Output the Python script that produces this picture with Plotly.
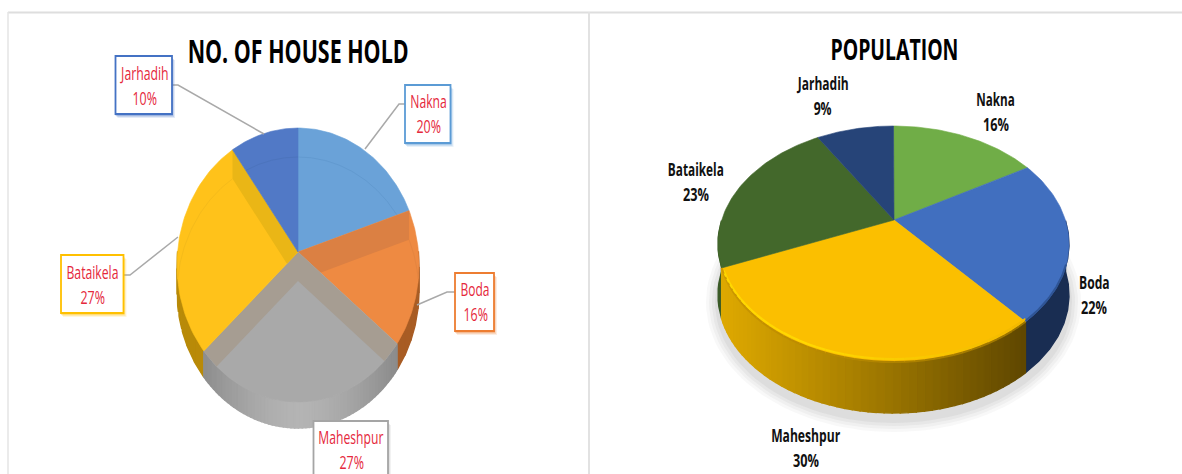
import cmath, json, math
import plotly.graph_objects as go

villages = ["Nakna", "Boda", "Maheshpur", "Bataikela", "Jarhadih"]
household_pct = [20, 16, 27, 27, 10]
population_pct = [16.4, 22.3, 30.0, 22.7, 8.6]
title_household = "NO. OF HOUSE HOLD"
title_population = "POPULATION"

LEFT = dict(cx=298, cy=265, rx=121, ry=137, ax=298, ay=252, persp=0.05, depth=26)
RIGHT = dict(cx=893.5, cy=244, rx=175.5, ry=118, ax=894, ay=220, persp=0.10, depth=51)

h_main = ["#6AA2D8", "#EE8A42", "#A9A9A9", "#FFC21A", "#5179C6"]
h_band = ["#669DD3", "#DB8043", "#A69D92", "#EAB616", "#4E75BE"]
h_line = ["#629AD0", "#E58540", "#A3A3A3", "#F5BB1A", "#4C74BD"]
h_border = ["#5B9BD5", "#ED7D31", "#A5A5A5", "#FFC000", "#4472C4"]
p_main = ["#70AD47", "#416FBF", "#FBBF00", "#43682B", "#264478"]
p_side = ["#4E7A32", "#192D52", "#000000", "#3A5A26", "#1A2E54"]
FONT = "Open Sans"
RED = "#E5283C"

fig = go.Figure()


def rim(g, theta, ox=0, oy=0):
    """Rim point of a slice boundary: true angle to perspective ellipse."""
    z = cmath.exp(1j * (math.pi / 2 - theta))
    a = 1j * g["persp"]
    w = (z + a) / (1 + a.conjugate() * z)
    return g["cx"] + g["rx"] * w.real + ox, g["cy"] - g["ry"] * w.imag + oy


def arc(g, t0, t1, n=60, ox=0, oy=0):
    return [rim(g, t0 + (t1 - t0) * i / n, ox, oy) for i in range(n + 1)]


def add_poly(pts, color, name=None, line=0.6):
    if len(pts) < 3:
        return
    fig.add_trace(go.Scatter(
        x=[p[0] for p in pts] + [pts[0][0]], y=[p[1] for p in pts] + [pts[0][1]],
        mode="lines", fill="toself", fillcolor=color,
        line=dict(color=color, width=line), hoverinfo="text" if name else "skip",
        text=name, showlegend=False))


def add_path(pts, color, width):
    fig.add_trace(go.Scatter(x=[p[0] for p in pts], y=[p[1] for p in pts], mode="lines",
                             line=dict(color=color, width=width), hoverinfo="skip", showlegend=False))


def clip(subject, clip_poly):
    """Sutherland-Hodgman clipping against a convex polygon."""
    area = sum(clip_poly[i][0] * clip_poly[(i + 1) % len(clip_poly)][1]
               - clip_poly[(i + 1) % len(clip_poly)][0] * clip_poly[i][1] for i in range(len(clip_poly)))
    sign = 1 if area > 0 else -1
    out = subject
    for i in range(len(clip_poly)):
        a, b = clip_poly[i], clip_poly[(i + 1) % len(clip_poly)]
        if abs(a[0] - b[0]) + abs(a[1] - b[1]) < 1e-9:
            continue
        side_of = lambda p: sign * ((b[0] - a[0]) * (p[1] - a[1]) - (b[1] - a[1]) * (p[0] - a[0]))
        res = []
        for j in range(len(out)):
            p, q = out[j], out[(j + 1) % len(out)]
            sp, sq = side_of(p), side_of(q)
            if sp >= 0:
                res.append(p)
            if sp * sq < 0:
                t = sp / (sp - sq)
                res.append((p[0] + t * (q[0] - p[0]), p[1] + t * (q[1] - p[1])))
        out = res
        if not out:
            break
    return out


def bounds(vals):
    total = sum(vals)
    c, res = 0, []
    for v in vals:
        res.append((2 * math.pi * c / total, 2 * math.pi * (c + v) / total))
        c += v
    return res


def mix(c0, c1, t):
    a = [int(c0[i:i + 2], 16) for i in (1, 3, 5)]
    b = [int(c1[i:i + 2], 16) for i in (1, 3, 5)]
    return "#%02X%02X%02X" % tuple(round(x + (y - x) * t) for x, y in zip(a, b))


def side(g, t0, t1, colorfn, n=1):
    """Extruded wall between two angles, clipped to the front half."""
    t0, t1 = max(t0, math.pi / 2), min(t1, 3 * math.pi / 2)
    if t1 <= t0:
        return
    for i in range(n):
        a = t0 + (t1 - t0) * i / n
        b = t0 + (t1 - t0) * (i + 1) / n
        top = arc(g, a, b, 8)
        bot = arc(g, a, b, 8, oy=g["depth"])
        add_poly(top + bot[::-1], colorfn((top[0][0] + top[-1][0]) / 2), line=1.4)


# ---------- left chart ----------
g = LEFT
lb = bounds(household_pct)


def left_side_color(base, dark):
    def f(x):
        t = min(abs(x - g["cx"]) / 100, 1)
        return mix(base, dark, t ** 1.5)
    return f


side(g, *lb[1], left_side_color("#C06A2A", "#A85C24"), 6)
side(g, *lb[3], left_side_color("#DDA60E", "#B88A08"), 6)
side(g, *lb[2], left_side_color("#B4B4B4", "#8A8A8A"), 60)

shift = 29
for i, (t0, t1) in enumerate(lb):
    rim_pts = arc(g, t0, t1)
    apex = (g["ax"], g["ay"])
    wedge = [apex] + rim_pts
    add_poly(wedge, h_main[i], villages[i])
    # bevel walls: each radial edge, dropped by the bevel depth, clipped to the slice
    for edge_t in (t0, t1):
        e = rim(g, edge_t)
        quad = [apex, e, (e[0], e[1] + shift), (apex[0], apex[1] + shift)]
        piece = clip(quad, wedge)
        if len(piece) >= 3:
            add_poly(piece, h_band[i], line=0)
    # faint inner contour, the rim dropped by the bevel depth
    inner = [p for p in arc(g, t0, t1, 80, oy=shift)]
    inside = []
    for p in inner:
        q = clip([p, (p[0] + .01, p[1]), (p[0], p[1] + .01)], wedge)
        if q:
            inside.append(p)
    if len(inside) > 1:
        add_path(inside, h_line[i], 1)

# ---------- right chart ----------
g = RIGHT
rb = bounds(population_pct)

for k, (grow, op) in enumerate([(12, .05), (9, .06), (6, .07), (3, .08)]):
    cx, cy = g["cx"], g["cy"] + g["depth"] + 7
    sh = [(cx + (g["rx"] + grow) * math.cos(i * math.pi / 60),
           cy + (g["ry"] + grow) * math.sin(i * math.pi / 60)) for i in range(121)]
    add_poly(sh, f"rgba(120,120,120,{op})", line=0)

side(g, *rb[1], lambda x: p_side[1], 1)
side(g, *rb[3], lambda x: p_side[3], 1)


def gold(x):
    t = max(0.0, min(1.0, (x - 724) / (1024 - 724)))
    return mix("#DDA800", "#5F4700", t ** 1.05)


side(g, *rb[2], gold, 50)

for i, (t0, t1) in enumerate(rb):
    add_poly([(g["ax"], g["ay"])] + arc(g, t0, t1), p_main[i], villages[i])

# soft rim light on the front slices
t0, t1 = rb[2]
n = 40
for i in range(n):
    a = t0 + (t1 - t0) * i / n
    b = t0 + (t1 - t0) * (i + 1) / n
    s = i / (n - 1)
    add_path(arc(g, a, b, 4), mix("#9A7400", "#D09A00", s), 2)
    if s < .98:
        hi = mix("#F2B800", "#FFD800", min(1, s * 1.7))
        add_path(arc(g, a, b, 4, oy=-3), hi, 2.2)
add_path(arc(g, math.pi * .62, rb[1][1], oy=-1), "#2F5596", 2)

shapes = [
    dict(type="line", x0=8, x1=1182, y0=12.5, y1=12.5, line=dict(color="#DEDEDE", width=2)),
    dict(type="line", x0=8, x1=8, y0=12, y1=474, line=dict(color="#E4E4E4", width=1.5)),
    dict(type="line", x0=589, x1=589, y0=12, y1=474, line=dict(color="#E2E2E2", width=2)),
]
ann = []
text_widths = []


def text(x, y, s, size, color, width, bold=False):
    ann.append(dict(x=x, y=y, xref="x", yref="y", text=s, showarrow=False,
                    xanchor="center", yanchor="middle",
                    font=dict(family=FONT, size=size, color=color, weight=700 if bold else 400)))
    text_widths.append(width)


text(298, 50.5, title_household, 33, "#000000", 221, True)
text(894, 48.5, title_population, 29, "#000000", 128, True)

left_boxes = [(405, 450.5, 85, 143), (455, 494, 273, 331), (313.5, 388, 421, 482),
              (61, 123.5, 255, 313), (115.5, 172, 56, 114)]
left_text = [(428, 101), (475, 289), (351, 437), (92, 272), (144, 73)]
left_w = [36.5, 29, 65, 52, 47.5]
leaders = [[(405, 104), (399, 104), (365, 149)], [(455, 292), (447, 292), (417, 305)], None,
           [(123.5, 275), (130, 275), (178, 237)], [(172, 85), (178, 85), (264, 134)]]

for i, name in enumerate(villages):
    if leaders[i]:
        pts = leaders[i]
        path = "M" + " L".join(f"{x},{y}" for x, y in pts)
        shapes.append(dict(type="path", path=path, line=dict(color="#A9A9A9", width=1.5), layer="above"))
    x0, x1, y0, y1 = left_boxes[i]
    for off, op in ((4, .14), (3, .2), (2, .3)):
        shapes.append(dict(type="rect", x0=x0 + off - 2, x1=x1 + off - 1, y0=y0 + off, y1=y1 + off,
                           line=dict(width=0), fillcolor=h_border[i], opacity=op, layer="above"))
    shapes.append(dict(type="rect", x0=x0, x1=x1, y0=y0, y1=y1, fillcolor="#FFFFFF",
                       line=dict(color=h_border[i], width=1.8), layer="above"))
    tx, ty = left_text[i]
    text(tx, ty, name, 19, RED, left_w[i])
    text(tx, ty + 25, f"{household_pct[i]}%", 19, RED, 24.5)

right_text = [(995.5, 98), (1094, 281), (806, 434), (696, 168), (822.5, 82)]
right_w = [38.5, 30.6, 69, 56, 51]
for i, name in enumerate(villages):
    tx, ty = right_text[i]
    pct = round(population_pct[i])
    text(tx, ty, name, 18.5, "#111111", right_w[i], True)
    text(tx, ty + 25.5, f"{pct}%", 18.5, "#111111", 18 if pct < 10 else 26, True)

fig.update_layout(
    width=1182, height=474, margin=dict(l=0, r=0, t=0, b=0), paper_bgcolor="#FFFFFF", plot_bgcolor="#FFFFFF",
    xaxis=dict(range=[0, 1182], visible=False, fixedrange=True),
    yaxis=dict(range=[474, 0], visible=False, fixedrange=True),
    shapes=shapes, annotations=ann, showlegend=False,
)
squeeze = """
document.body.style.margin='0';document.body.style.overflow='hidden';
var WIDTHS=%s;
function squeeze(){
  document.querySelectorAll('.annotation-text').forEach(function(el,i){
    el.setAttribute('lengthAdjust','spacingAndGlyphs');
    el.setAttribute('textLength',WIDTHS[i]);
  });
}
squeeze();setTimeout(squeeze,50);setTimeout(squeeze,300);
""" % json.dumps(text_widths)
fig.write_html("out.html", config=dict(displayModeBar=False), post_script=squeeze)
